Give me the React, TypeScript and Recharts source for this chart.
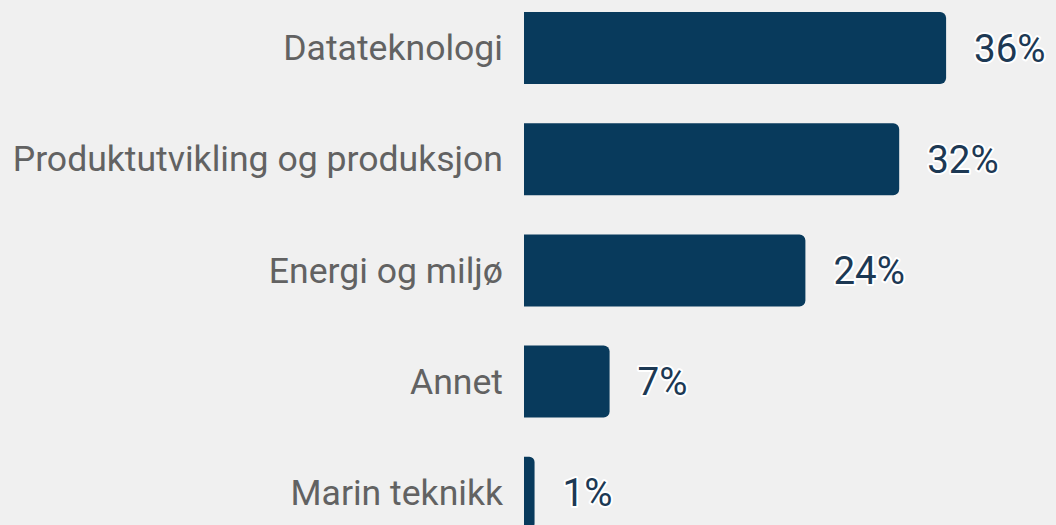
import { BarChart, Bar, XAxis, YAxis, LabelList } from 'recharts';

const categories = [
  'Datateknologi',
  'Produktutvikling og produksjon',
  'Energi og miljø',
  'Annet',
  'Marin teknikk',
];
const shares = [36, 32, 24, 7.3, 0.9];

const data = categories.map((name, i) => ({ name, value: shares[i] }));

export default function App() {
  return (
    <div
      style={{
        position: 'fixed',
        top: 0,
        left: 0,
        width: 1056,
        height: 525,
        overflow: 'hidden',
        background: '#f0f0f0',
      }}
    >
      <div style={{ marginTop: -8 }}>
        <BarChart
          width={1056}
          height={556}
          data={data}
          layout="vertical"
          margin={{ top: 0, right: 63, bottom: 0, left: 0 }}
          barSize={72}
        >
          <XAxis type="number" domain={[0, 40]} hide />
          <YAxis
            type="category"
            dataKey="name"
            width={524}
            tickLine={false}
            axisLine={false}
            tickSize={0}
            tickMargin={21}
            tick={{ fill: '#626262', fontSize: 35.6, fontFamily: 'Roboto' }}
          />
          <Bar dataKey="value" fill="#083a5c" radius={[0, 6, 6, 0]} isAnimationActive={false}>
            <LabelList
              dataKey="value"
              position="right"
              offset={28}
              formatter={(v: number) => `${Math.round(v)}%`}
              style={{
                fill: '#1d3954',
                fontSize: 38.5,
                fontFamily: 'Roboto',
                stroke: '#ffffff',
                strokeWidth: 4,
                paintOrder: 'stroke',
                strokeLinejoin: 'round',
              }}
            />
          </Bar>
        </BarChart>
      </div>
    </div>
  );
}
